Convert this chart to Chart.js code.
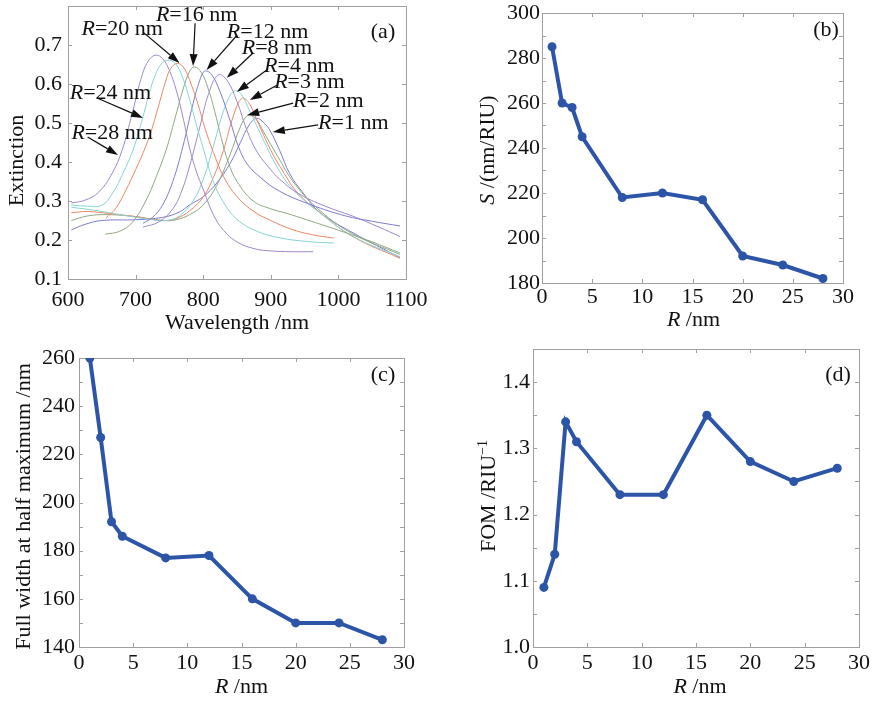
<!DOCTYPE html>
<html>
<head>
<meta charset="utf-8">
<script src="https://cdn.jsdelivr.net/npm/chart.js@4.4.0/dist/chart.umd.min.js"></script>
<style>
  html, body { margin: 0; padding: 0; background: #fff; }
  #wrap { position: relative; width: 880px; height: 702px; }
  canvas { position: absolute; }
</style>
</head>
<body>
<div id="wrap">
  <canvas id="chartA" width="440" height="340" style="left:0;top:0;width:440px;height:340px"></canvas>
  <canvas id="chartB" width="440" height="340" style="left:440px;top:0;width:440px;height:340px"></canvas>
  <canvas id="chartC" width="440" height="362" style="left:0;top:340px;width:440px;height:362px"></canvas>
  <canvas id="chartD" width="440" height="362" style="left:440px;top:340px;width:440px;height:362px"></canvas>
</div>
<script>
// ========================== DATA (a): extinction spectra ==========================
// [wavelength nm, extinction]
const extR28 = [[605,.295],[625,.302],[645,.322],[665,.37],[680,.43],[695,.525],[710,.625],[720,.662],[730,.674],[740,.665],[750,.635],[760,.585],[770,.515],[780,.435],[790,.375],[800,.33],[815,.265],[830,.225],[850,.195],[875,.178],[900,.172],[930,.17],[963,.17]];
const extR24 = [[605,.29],[625,.287],[650,.289],[666,.32],[681,.37],[696,.43],[710,.51],[720,.575],[730,.627],[740,.655],[750,.661],[760,.65],[770,.615],[780,.56],[790,.495],[800,.435],[815,.35],[830,.297],[850,.253],[880,.222],[915,.205],[955,.196],[993,.192]];
const extR20 = [[656,.256],[671,.282],[686,.329],[700,.38],[715,.44],[725,.49],[735,.55],[745,.61],[752,.64],[762,.653],[772,.64],[782,.6],[792,.55],[802,.49],[815,.425],[830,.363],[850,.311],[875,.273],[900,.25],[930,.228],[960,.214],[993,.205]];
const extR16 = [[655,.215],[676,.222],[695,.245],[715,.3],[730,.36],[745,.43],[758,.51],[770,.585],[780,.633],[787,.644],[797,.63],[807,.59],[817,.53],[827,.46],[837,.4],[850,.35],[874,.30],[900,.28],[924,.268],[953,.252],[1000,.225],[1050,.195],[1091,.167]];
const extR12 = [[711,.243],[725,.258],[740,.29],[755,.35],[770,.44],[785,.55],[795,.61],[802,.633],[812,.625],[825,.58],[840,.505],[852,.44],[865,.395],[885,.36],[913,.325],[960,.29],[1010,.262],[1050,.248],[1091,.236]];
const extR8  = [[711,.233],[735,.247],[755,.28],[767,.32],[780,.39],[795,.49],[808,.575],[822,.623],[835,.61],[850,.555],[865,.48],[880,.425],[900,.38],[913,.356],[940,.32],[980,.287],[1020,.262],[1060,.233],[1091,.209]];
const extR4  = [[605,.284],[640,.276],[680,.264],[720,.253],[745,.25],[765,.262],[785,.3],[800,.355],[815,.44],[828,.52],[838,.565],[846,.582],[855,.577],[869,.53],[889,.457],[909,.388],[933,.329],[973,.269],[1022,.209],[1091,.157]];
const extR3  = [[605,.27],[630,.273],[660,.268],[700,.26],[740,.25],[760,.255],[780,.275],[800,.31],[815,.36],[830,.43],[845,.52],[857,.563],[867,.553],[880,.505],[900,.43],[920,.37],[940,.32],[973,.27],[1022,.208],[1091,.153]];
const extR2  = [[605,.25],[630,.262],[660,.265],[700,.26],[740,.25],[760,.252],[780,.265],[800,.29],[820,.34],[840,.42],[855,.49],[866,.52],[876,.515],[890,.475],[910,.415],[935,.345],[973,.275],[1022,.215],[1091,.163]];
const extR1  = [[605,.226],[625,.24],[650,.25],[700,.252],[740,.258],[765,.272],[780,.29],[800,.311],[820,.346],[840,.397],[855,.45],[868,.495],[879,.512],[890,.5],[899,.48],[913,.43],[928,.37],[948,.32],[973,.27],[1022,.218],[1091,.155]];

const spectra = [extR28, extR24, extR20, extR16, extR12, extR8, extR4, extR3, extR2, extR1];
const spectraR = ['28', '24', '20', '16', '12', '8', '4', '3', '2', '1'];

// label anchors (data coords) and arrows for panel (a)
const labelAt   = [[605,.474],[602.5,.577],[620,.741],[730,.776],[835,.733],[857,.692],[890,.646],[905,.605],[933,.556],[970,.50]];
const arrowFrom = [[629,.464],[643,.564],[711,.733],[788,.756],[850,.725],[874,.68],[894,.636],[909,.597],[933,.551],[970,.495]];
const arrowTo   = [[674,.418],[711,.513],[765,.654],[785,.646],[805,.636],[835,.616],[850,.58],[869,.559],[865,.52],[903,.477]];

// ========================== DATA (b)(c)(d) ==========================
const radius = [1, 2, 3, 4, 8, 12, 16, 20, 24, 28];
const sensitivity = [285, 260, 258, 245, 218, 220, 217, 192, 188, 182];
const fwhm = [260, 227, 192, 186, 177, 178, 160, 150, 150, 143];
const fom = [1.09, 1.14, 1.34, 1.31, 1.23, 1.23, 1.35, 1.28, 1.25, 1.27];

// ========================== STYLE ==========================
const FONT = '"Liberation Serif", "Times New Roman", serif';
const FS = 22;
const palette = ['#a088cf', '#86d3d6', '#ef8566', '#8ea882', '#7c7ccf'];
const lineBlue = '#2c55a8';

function font(size, italic) {
  return (italic ? 'italic ' : '') + size + 'px ' + FONT;
}

// draw a run of text parts: {t, it, size, dy}
function drawRich(ctx, parts, x, y, align) {
  let total = 0;
  parts.forEach(p => {
    ctx.font = font(p.size || FS, p.it);
    p.w = ctx.measureText(p.t).width;
    total += p.w;
  });
  let cx = align === 'center' ? x - total / 2 : x;
  ctx.textBaseline = 'middle';
  ctx.textAlign = 'left';
  parts.forEach(p => {
    ctx.font = font(p.size || FS, p.it);
    ctx.fillText(p.t, cx, y + (p.dy || 0));
    cx += p.w;
  });
}

function arrow(ctx, x1, y1, x2, y2) {
  const ang = Math.atan2(y2 - y1, x2 - x1);
  const L = 12, W = 4;
  const bx = x2 - L * Math.cos(ang), by = y2 - L * Math.sin(ang);
  ctx.beginPath();
  ctx.moveTo(x1, y1);
  ctx.lineTo(bx, by);
  ctx.stroke();
  ctx.beginPath();
  ctx.moveTo(x2, y2);
  ctx.lineTo(bx + W * Math.sin(ang), by - W * Math.cos(ang));
  ctx.lineTo(bx - W * Math.sin(ang), by + W * Math.cos(ang));
  ctx.closePath();
  ctx.fill();
}

// frame, inward ticks, titles and panel letter
function decor(cfg) {
  return {
    id: 'decor' + cfg.letter,
    beforeDatasetsDraw(chart) {
      const { ctx, chartArea: a, scales } = chart;
      ctx.save();
      ctx.strokeStyle = '#a0a0a0';
      ctx.lineWidth = 1;
      ctx.strokeRect(Math.round(a.left) + 0.5, Math.round(a.top) + 0.5,
        Math.round(a.right - a.left), Math.round(a.bottom - a.top));
      ctx.beginPath();
      scales.x.ticks.forEach(t => {
        const px = Math.round(scales.x.getPixelForValue(t.value)) + 0.5;
        ctx.moveTo(px, a.bottom); ctx.lineTo(px, a.bottom - 4);
        ctx.moveTo(px, a.top); ctx.lineTo(px, a.top + 4);
      });
      scales.y.ticks.forEach(t => {
        const py = Math.round(scales.y.getPixelForValue(t.value)) + 0.5;
        ctx.moveTo(a.left, py); ctx.lineTo(a.left + 4, py);
        ctx.moveTo(a.right, py); ctx.lineTo(a.right - 4, py);
      });
      ctx.stroke();
      ctx.restore();
    },
    afterDraw(chart) {
      const { ctx, chartArea: a, scales } = chart;
      ctx.save();
      ctx.fillStyle = '#111';
      // x title
      drawRich(ctx, cfg.xTitle, (a.left + a.right) / 2 + cfg.xTitleDx, a.bottom + cfg.xTitleDy, 'center');
      // y title
      ctx.save();
      ctx.translate(a.left - cfg.yTitleDx, (a.top + a.bottom) / 2 + cfg.yTitleDy);
      ctx.rotate(-Math.PI / 2);
      drawRich(ctx, cfg.yTitle, 0, 0, 'center');
      ctx.restore();
      // panel letter
      drawRich(ctx, [{ t: '(' + cfg.letter + ')' }], a.right - cfg.letterDx, a.top + cfg.letterDy, 'center');
      // annotations (a)
      if (cfg.annotate) {
        ctx.strokeStyle = '#111';
        ctx.lineWidth = 1.2;
        spectraR.forEach((r, i) => {
          const sx = scales.x, sy = scales.y;
          drawRich(ctx, [{ t: 'R', it: true }, { t: '=' + r + ' nm' }],
            sx.getPixelForValue(labelAt[i][0]), sy.getPixelForValue(labelAt[i][1]), 'left');
          arrow(ctx, sx.getPixelForValue(arrowFrom[i][0]), sy.getPixelForValue(arrowFrom[i][1]),
            sx.getPixelForValue(arrowTo[i][0]), sy.getPixelForValue(arrowTo[i][1]));
        });
      }
      ctx.restore();
    }
  };
}

function axis(min, max, step, fmt, pad, size, isY) {
  return {
    type: 'linear', min, max,
    ticks: {
      stepSize: step, autoSkip: false, maxRotation: 0, padding: pad,
      color: '#111', font: { family: FONT, size: FS },
      callback: fmt
    },
    grid: { display: false, drawTicks: false },
    border: { display: false },
    afterFit(ax) {
      if (isY) ax.width = size; else ax.height = size;
      ax.paddingTop = 0; ax.paddingBottom = 0;
      ax.paddingLeft = 0; ax.paddingRight = 0;
    }
  };
}

function baseOptions(padding, xScale, yScale) {
  return {
    responsive: false, animation: false, events: [],
    layout: { padding },
    plugins: { legend: { display: false }, tooltip: { enabled: false } },
    scales: { x: xScale, y: yScale }
  };
}

const fmtMajor = (every, digits) => v => {
  const k = Math.round(v / every * 1000) / 1000;
  return Math.abs(k - Math.round(k)) < 1e-6 ? v.toFixed(digits) : '';
};

// ========================== (a) ==========================
new Chart(document.getElementById('chartA'), {
  type: 'scatter',
  data: {
    datasets: spectra.map((pts, i) => ({
      data: pts.map(p => ({ x: p[0], y: p[1] })),
      showLine: true, borderColor: palette[i % 5], borderWidth: 1,
      pointRadius: 0, tension: 0.4, fill: false
    }))
  },
  options: baseOptions({ left: 0, right: 34, top: 6, bottom: 0 },
    axis(600, 1100, 100, v => String(v), 8, 61, false),
    axis(0.1, 0.8, 0.1, v => (v > 0.75 ? '' : v.toFixed(1)), 6, 68, true)),
  plugins: [decor({
    letter: 'a', annotate: true,
    xTitle: [{ t: 'Wavelength /nm' }], xTitleDx: 0, xTitleDy: 44,
    yTitle: [{ t: 'Extinction' }], yTitleDx: 51, yTitleDy: 18,
    letterDx: 23, letterDy: 26
  })]
});

// ========================== (b)(c)(d) ==========================
function pointChart(id, values, yMin, yMax, yStep, yEvery, yDigits, pad, yPad, letter, yTitle, yTitleDx, yTitleDy, letterDx, letterDy) {
  new Chart(document.getElementById(id), {
    type: 'scatter',
    data: {
      datasets: [{
        data: radius.map((r, i) => ({ x: r, y: values[i] })),
        showLine: true, borderColor: lineBlue, backgroundColor: lineBlue,
        borderWidth: 4, pointRadius: 4.5, pointBorderWidth: 0, tension: 0
      }]
    },
    options: baseOptions(pad.layout,
      axis(0, 30, 5, v => String(v), pad.xTick, pad.xH, false),
      axis(yMin, yMax, yStep, fmtMajor(yEvery, yDigits), yPad, pad.yW, true)),
    plugins: [decor({
      letter,
      xTitle: [{ t: 'R', it: true }, { t: ' /nm' }], xTitleDx: pad.xTitleDx, xTitleDy: pad.xTitleDy,
      yTitle, yTitleDx, yTitleDy, letterDx, letterDy
    })]
  });
}

pointChart('chartB', sensitivity, 180, 300, 10, 20, 0,
  { layout: { left: 0, right: 37, top: 13, bottom: 0 }, xTick: 1, xH: 57, yW: 102, xTitleDx: 1, xTitleDy: 37 }, 2,
  'b', [{ t: 'S', it: true }, { t: ' /(nm/RIU)' }], 54, 2, 17, 17);

pointChart('chartC', fwhm, 140, 260, 10, 20, 0,
  { layout: { left: 0, right: 36, top: 18, bottom: 0 }, xTick: 3, xH: 55, yW: 79, xTitleDx: 0, xTitleDy: 40 }, 4,
  'c', [{ t: 'Full width at half maximum /nm' }], 55, 4, 21, 17);

pointChart('chartD', fom, 1.0, 1.45, 0.05, 0.1, 1,
  { layout: { left: 0, right: 21, top: 9, bottom: 0 }, xTick: 3, xH: 55, yW: 93, xTitleDx: 4, xTitleDy: 40 }, 3,
  'd', [{ t: 'FOM /RIU' }, { t: '\u22121', size: 14, dy: -6 }], 44, -2, 21, 26);
</script>
</body>
</html>
